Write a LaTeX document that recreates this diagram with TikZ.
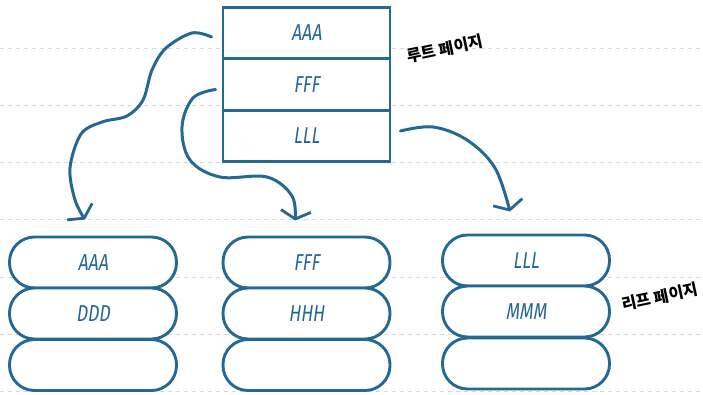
\documentclass[tikz,border=0pt]{standalone}
\usepackage{fontspec}
\usetikzlibrary{arrows.meta}
\newfontfamily\handfont[FakeStretch=0.76,FakeSlant=0.14]{Fira Sans}
\newfontfamily\krfont{Noto Sans CJK KR}
\definecolor{inkblue}{RGB}{36,104,148}
\definecolor{gridgray}{RGB}{214,214,214}
\tikzset{
  gridline/.style={gridgray, line width=1pt, dash pattern=on 4pt off 4pt},
  rootrow/.style={draw=inkblue, fill=white, line width=2.9pt, minimum width=167pt,
    minimum height=51.5pt, inner sep=0pt, text=inkblue, font=\handfont\fontsize{23}{23}\selectfont},
  leafrow/.style={draw=inkblue, fill=white, line width=2.9pt, rounded corners=25pt,
    minimum width=167pt, minimum height=51pt, inner sep=0pt, text=inkblue,
    font=\handfont\fontsize{23}{23}\selectfont},
  link/.style={inkblue, line width=3pt, line cap=round, line join=round,
    -{Straight Barb[length=8pt,width=30pt,line width=2.8pt]}},
  pagelabel/.style={font=\krfont\bfseries\fontsize{16}{16}\selectfont, inner sep=0pt, rotate=12}
}
\begin{document}
\begin{tikzpicture}[x=1pt,y=-1pt]
  \useasboundingbox (0,0) rectangle (703,394);
  % background ruling
  \foreach \yy in {48,105,162,219,277,334,391}
    \draw[gridline] (0,\yy) -- (703,\yy);

  % root page
  \node[rootrow] (r1) at (306.5,33) {AAA};
  \node[rootrow] (r2) at (306.5,84.5) {FFF};
  \node[rootrow] (r3) at (306.5,136) {LLL};
  \node[pagelabel] (rootlabel) at (445,49) {루트 페이지};

  % leaf pages
  \node[leafrow] (a1) at (93,262.5) {AAA};
  \node[leafrow] (a2) at (93,313.5) {DDD};
  \node[leafrow] (a3) at (93,365) {};
  \node[leafrow] (b1) at (306.5,262.5) {FFF};
  \node[leafrow] (b2) at (306.5,313.5) {HHH};
  \node[leafrow] (b3) at (306.5,365) {};
  \node[leafrow] (c1) at (526,260.5) {LLL};
  \node[leafrow] (c2) at (526,311.5) {MMM};
  \node[leafrow] (c3) at (526,363.5) {};
  \node[pagelabel] (leaflabel) at (660,297) {리프 페이지};

  % pointers from the root to the leaves
  \draw[link] plot[smooth, tension=0.55] coordinates {
    ([xshift=-10pt,yshift=-4pt]r1.west) (192,33) (166,48) (152,70) (143,100)
    (127,116) (102,122) (81,134) (70,168) (75,200) ([xshift=-8pt,yshift=16pt]a1.north)};
  \draw[link] plot[smooth, tension=0.6] coordinates {
    ([xshift=-6pt,yshift=-5pt]r2.west) (193,98) (182,127) (190,160) (220,177)
    (267,177) (292,196) ([xshift=-11.5pt,yshift=15pt]b1.north)};
  \draw[link] plot[smooth, tension=0.6] coordinates {
    ([xshift=9pt,yshift=5pt]r3.east) (433,127) (467,140) (495,168)
    ([xshift=-16pt,yshift=22pt]c1.north)};
\end{tikzpicture}
\end{document}
